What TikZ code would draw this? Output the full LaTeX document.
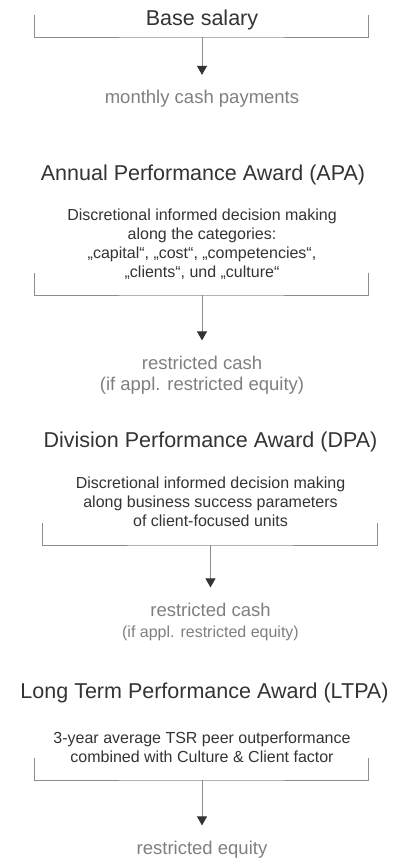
\documentclass[tikz,border=0pt]{standalone}
\usepackage{fontspec}
\setmainfont{Liberation Sans}
\usetikzlibrary{arrows.meta}
\definecolor{headgray}{HTML}{333333}
\definecolor{paygray}{HTML}{7F7F7F}
\definecolor{linegray}{HTML}{8C8C8C}
\definecolor{tipgray}{HTML}{333333}

\begin{document}
\begin{tikzpicture}[x=1pt,y=1pt]
\tikzstyle{every node}+=[inner sep=0pt, anchor=base]
\tikzstyle{award}=[font=\fontsize{21.5}{24}\selectfont, text=headgray]
\tikzstyle{rule}=[align=center, font=\fontsize{16}{19}\selectfont, text=headgray]
\tikzstyle{payout}=[align=center, font=\fontsize{18.5}{21}\selectfont, text=paygray]
\tikzstyle{bracket}=[draw=linegray, line width=0.9pt]
\tikzstyle{flow}=[draw=linegray, line width=0.9pt, shorten >=15pt, -{Triangle[width=10pt,length=9pt,color=tipgray]}]
\useasboundingbox (0,0) rectangle (394,-859);
% base salary
\node [award] (sal) at (202,-26) {Base salary};
\draw [bracket] (34,-15) |- (202,-37) coordinate (salB) -| (368,-15);
\node [payout] (salOut) at (202,-103.5) {monthly cash payments};
\draw [flow] (salB) -- (salOut.north);
% APA (multi-line nodes sit on their last baseline)
\node [award] (apa) at (203,-180) {Annual Performance Award (APA)};
\node [rule] (apaRule) at (202,-277) {Discretional informed decision making\\along the categories:\\„capital“, „cost“, „competencies“,\\„clients“, und „culture“};
\draw [bracket] (34,-273) |- (202,-295) coordinate (apaB) -| (368,-273);
\node [payout] (apaOut) at (202,-390) {restricted cash\\(if appl. restricted equity)};
\draw [flow] (apaB) -- (apaOut.north);
% DPA
\node [award] (dpa) at (210.5,-447) {Division Performance Award (DPA)};
\node [rule] (dpaRule) at (210.5,-526) {Discretional informed decision making\\along business success parameters\\of client-focused units};
\draw [bracket] (42,-523) |- (210.5,-545) coordinate (dpaB) -| (377,-523);
\node [payout] (dpaOut) at (210.5,-637) {restricted cash\\{\fontsize{16}{19}\selectfont (if appl. restricted equity)}};
\draw [flow] (dpaB) -- (dpaOut.north);
% LTPA
\node [award] (ltpa) at (204.5,-698) {Long Term Performance Award (LTPA)};
\node [rule] (ltpaRule) at (202,-762) {3-year average TSR peer outperformance\\combined with Culture \& Client factor};
\draw [bracket] (34,-758) |- (202,-780) coordinate (ltpaB) -| (368,-758);
\node [payout] (ltpaOut) at (202,-854) {restricted equity};
\draw [flow] (ltpaB) -- (ltpaOut.north);
\end{tikzpicture}
\end{document}
